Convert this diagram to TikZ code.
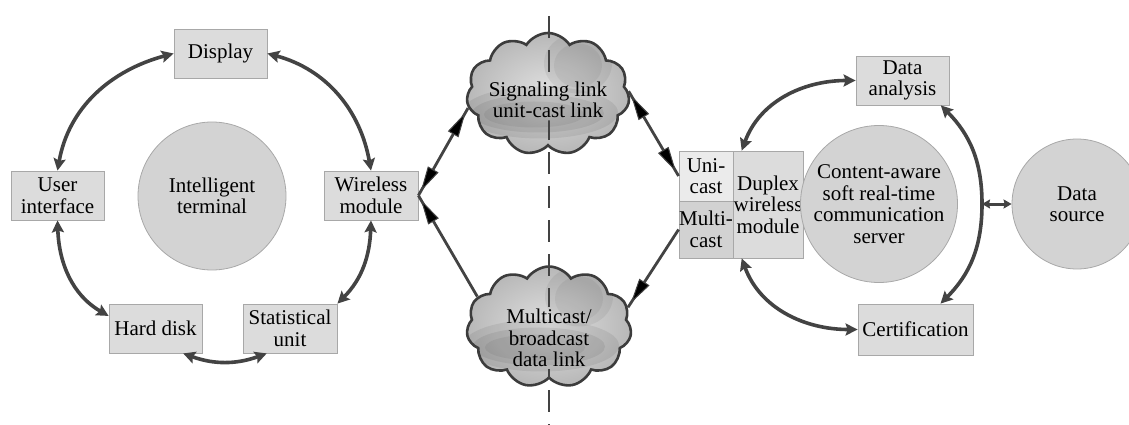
\documentclass[tikz,border=0pt]{standalone}
\usepackage{fontspec}
\setmainfont{Liberation Serif}
\usetikzlibrary{shapes.symbols,arrows.meta,calc,decorations.markings}

\definecolor{boxfill}{HTML}{DCDCDC}
\definecolor{boxline}{HTML}{A8A8A8}
\definecolor{discfill}{HTML}{D3D3D3}
\definecolor{linkgray}{HTML}{434343}
\definecolor{unifill}{HTML}{EBEBEB}
\definecolor{multifill}{HTML}{D2D2D2}
\definecolor{cloudline}{HTML}{3C3C3C}

\begin{document}
\begin{tikzpicture}[x=1pt,y=1pt,
  every node/.style={font=\fontsize{21}{21.5}\selectfont, align=center, inner sep=0pt},
  box/.style={rectangle, fill=boxfill, draw=boxline, line width=0.8pt,
    minimum width=93pt, minimum height=49pt},
  disc/.style={circle, fill=discfill, draw=boxline, line width=0.8pt},
  ring/.style={draw=linkgray, line width=3.6pt,
    {Stealth[length=12pt,width=12pt,inset=2pt]}-{Stealth[length=12pt,width=12pt,inset=2pt]}},
  shortring/.style={draw=linkgray, line width=3pt,
    {Stealth[length=8pt,width=9pt,inset=1pt]}-{Stealth[length=8pt,width=9pt,inset=1pt]}},
  link/.style={draw=linkgray, line width=2.8pt},
  endhead/.style={postaction={decorate}, decoration={markings,
    mark=at position -5pt with {\arrow{Triangle[length=25pt,width=12pt,fill=black,line width=1pt]}}}},
  bothheads/.style={postaction={decorate}, decoration={markings,
    mark=at position 5pt with {\arrowreversed{Triangle[length=25pt,width=12pt,fill=black,line width=1pt]}},
    mark=at position -5pt with {\arrow{Triangle[length=25pt,width=12pt,fill=black,line width=1pt]}}}},
  cloudshape/.style={cloud, cloud puffs=11, cloud puff arc=115, cloud ignores aspect,
    minimum width=163pt, minimum height=122pt, draw=cloudline, line width=2.6pt,
    inner color=black!12, outer color=black!28,
    path picture={
      \coordinate (pc) at (path picture bounding box.center);
      \fill[black, opacity=0.07] ($(pc)+(-8,-19)$) ellipse [x radius=78, y radius=26];
      \fill[black, opacity=0.07] ($(pc)+(-10,-20)$) ellipse [x radius=66, y radius=19];
      \fill[black, opacity=0.06] ($(pc)+(-14,-21)$) ellipse [x radius=50, y radius=13];
      \fill[black, opacity=0.06] ($(pc)+(30,30)$) ellipse [x radius=34, y radius=30];
      \fill[black, opacity=0.05] ($(pc)+(30,28)$) ellipse [x radius=24, y radius=22];
    }},
  divider/.style={draw=linkgray, line width=2.5pt, dash pattern=on 22pt off 12pt},
]
\useasboundingbox (0,0) rectangle (1129,-425);

% ---------- intelligent terminal ----------
\node[disc, minimum size=148pt] (it) at (212,-196) {Intelligent\\terminal};
\node[box] (disp) at (220.5,-53.5) {Display};
\node[box] (ui) at (57.5,-195.5) {User\\interface};
\node[box, minimum width=94pt] (wm) at (371,-195.5) {Wireless\\module};
\node[box] (hd) at (155.5,-328.5) {Hard disk};
\node[box, minimum width=94pt] (su) at (290,-328.5) {Statistical\\unit};

\draw[ring] (disp.west) to[out=195,in=80] (ui.north);
\draw[ring] (disp.east) to[out=-15,in=100] (wm.north);
\draw[ring] (ui.south) to[out=-88,in=150] (hd.165);
\draw[ring] (wm.south) to[out=-92,in=45] (su.north east);
\draw[ring] (hd.-42) to[out=-20,in=-160] (su.-133);

% ---------- links (clouds) ----------
\node[cloudshape] (ctop) at (548,-94) {};
\node[cloudshape, minimum width=165pt, minimum height=121pt] (cbot) at (549,-327) {};

\node[inner sep=2pt] (ctoptext) at (548,-100) {Signaling link\\unit-cast link};
\node[inner sep=2pt] (cbottext) at (549,-338) {Multicast/\\broadcast\\data link};

% dividing line, kept out of the cloud captions
\coordinate (dashtop) at (549,-16);
\coordinate (dashbot) at (549,-425);
\begin{scope}[even odd rule]
  \clip (0,0) rectangle (1129,-425)
    (ctoptext.north west) rectangle (ctoptext.south east)
    (cbottext.north west) rectangle (cbottext.south east);
  \draw[divider] (dashtop) -- (dashbot);
\end{scope}

% ---------- server side ----------
\node[box, fill=unifill, minimum width=54pt, minimum height=50pt] (uni) at (706,-176) {Uni-\\cast};
\node[box, fill=multifill, minimum width=54pt, minimum height=57pt] (multi) at (706,-229.5) {Multi-\\cast};
\node[box, minimum width=70pt, minimum height=107pt] (duplex) at (768,-204.5) {Duplex\\wireless\\module};
\node[disc, minimum size=157pt] (server) at (879,-204) {Content-aware\\soft real-time\\communication\\server};
\node[box] (da) at (902.5,-80.5) {Data\\analysis};
\node[box, minimum width=115pt, minimum height=51pt] (cert) at (915.5,-329.5) {Certification};
\node[disc, minimum size=130pt] (ds) at (1077,-204) {Data\\source};

\draw[link, bothheads] (wm.east) -- (ctop.190);
\draw[link, endhead] (cbot.157) -- (wm.east);
\draw[link, bothheads] (ctop.2) -- (uni.west);
\draw[link, endhead] (multi.west) -- (cbot.14);

\draw[ring] (duplex.116) to[out=70,in=180] (da.west);
\draw[ring] (duplex.-116) to[out=-70,in=180] (cert.west);
\coordinate (arcmid) at (982,-204);
\draw[ring] (da.-33) to[out=-45,in=90] (arcmid) to[out=-90,in=45] (cert.46);
\draw[shortring] (arcmid) -- (ds.west);
\end{tikzpicture}
\end{document}
